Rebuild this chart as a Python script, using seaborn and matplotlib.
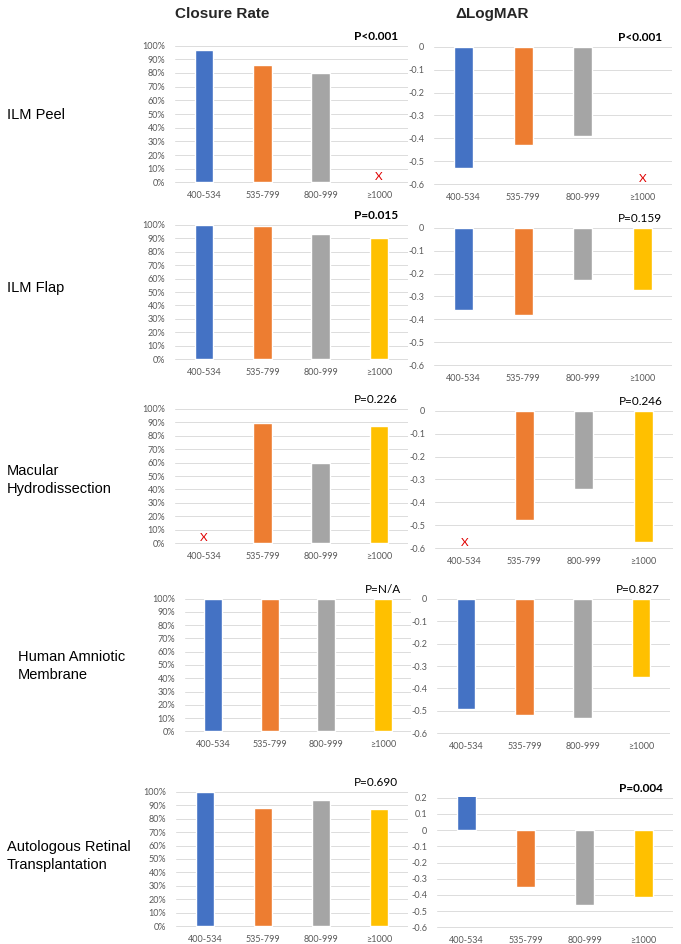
import numpy as np
import pandas as pd
import matplotlib
matplotlib.use("Agg")
import matplotlib.pyplot as plt
import seaborn as sns
from matplotlib.ticker import FuncFormatter, FixedLocator

# ---------------- data ----------------
categories = ["400-534", "535-799", "800-999", "≥1000"]
colors = ["#4472C4", "#ED7D31", "#A5A5A5", "#FFC000"]
techniques = ["ILM Peel", "ILM Flap", "Macular\nHydrodissection",
              "Human Amniotic\nMembrane", "Autologous Retinal\nTransplantation"]

closure_ilm_peel = [0.97, 0.86, 0.80, np.nan]
closure_ilm_flap = [1.00, 0.99, 0.93, 0.90]
closure_macular = [np.nan, 0.89, 0.60, 0.87]
closure_amniotic = [1.00, 1.00, 1.00, 1.00]
closure_retinal = [1.00, 0.88, 0.94, 0.87]

logmar_ilm_peel = [-0.53, -0.43, -0.39, np.nan]
logmar_ilm_flap = [-0.36, -0.38, -0.23, -0.27]
logmar_macular = [np.nan, -0.475, -0.34, -0.57]
logmar_amniotic = [-0.49, -0.52, -0.53, -0.35]
logmar_retinal = [0.22, -0.35, -0.46, -0.41]

p_closure = ["P<0.001", "P=0.015", "P=0.226", "P=N/A", "P=0.690"]
p_closure_bold = [True, True, False, False, False]
p_logmar = ["P<0.001", "P=0.159", "P=0.246", "P=0.827", "P=0.004"]
p_logmar_bold = [True, False, False, False, True]

logmar_top = [0.0, 0.0, 0.0, 0.0, 0.2]
logmar_bottom = -0.6

closure_rows = [closure_ilm_peel, closure_ilm_flap, closure_macular,
                closure_amniotic, closure_retinal]
logmar_rows = [logmar_ilm_peel, logmar_ilm_flap, logmar_macular,
               logmar_amniotic, logmar_retinal]

# ---------------- layout (pixels: left, top, right, bottom) ----------------
W, H = 681, 944
left_boxes = [(175, 45, 408, 183), (175, 224, 408, 360), (175, 408, 408, 544),
              (185, 598, 411, 732), (176, 791, 408, 927)]
right_boxes = [(434, 46, 672, 185), (434, 227, 672, 366), (435, 410, 673, 549),
               (437, 598, 670, 734), (437, 797, 673, 928)]
label_pos = [(7, 115), (7, 288), (7, 480), (18, 666), (7, 856)]

sns.set_theme(style="white")
plt.rcParams["font.family"] = ["Lato", "DejaVu Sans"]

fig = plt.figure(figsize=(W / 100, H / 100), dpi=100)
fig.patch.set_facecolor("white")


def add_ax(box):
    l, t, r, b = box
    return fig.add_axes([l / W, 1 - b / H, (r - l) / W, (b - t) / H])


def style_ax(ax):
    for s in ax.spines.values():
        s.set_visible(False)
    ax.yaxis.grid(True, color="#DCDCDC", lw=0.7)
    ax.xaxis.grid(False)
    ax.set_axisbelow(True)
    ax.tick_params(axis="both", length=0, labelsize=6.5, colors="#595959")
    ax.tick_params(axis="y", pad=7)
    ax.tick_params(axis="x", pad=6)
    ax.set_xlabel("")
    ax.set_ylabel("")
    ax.set_xlim(-0.5, len(categories) - 0.5)


def draw(ax, vals, ymin, ymax, step, fmt):
    df = pd.DataFrame({"cat": categories, "val": vals})
    sns.barplot(data=df, x="cat", y="val", hue="cat", order=categories,
                hue_order=categories, palette=colors, width=0.32,
                legend=False, ax=ax, saturation=1, errorbar=None)
    n = int(round((ymax - ymin) / step))
    ticks = [round(ymin + i * step, 2) for i in range(n + 1)]
    ax.yaxis.set_major_locator(FixedLocator(ticks))
    ax.yaxis.set_major_formatter(FuncFormatter(fmt))
    pad = (ymax - ymin) * 0.004
    ax.set_ylim(ymin - pad, ymax + pad)
    style_ax(ax)
    for i, v in enumerate(vals):
        if np.isnan(v):
            ax.text(i, ymin + (ymax - ymin) * 0.003, "X", color="#E00000",
                    ha="center", va="bottom", fontsize=8.5)


def pct(v, _):
    return f"{int(round(v * 100))}%"


def dec(v, _):
    v = round(v, 2)
    return "0" if abs(v) < 1e-9 else f"{v:.1f}"


for r in range(5):
    axl = add_ax(left_boxes[r])
    draw(axl, closure_rows[r], 0.0, 1.0, 0.1, pct)
    axr = add_ax(right_boxes[r])
    draw(axr, logmar_rows[r], logmar_bottom, logmar_top[r], 0.1, dec)

    l, t, rr, b = left_boxes[r]
    fig.text((rr - 10) / W, 1 - (t - 8.5) / H, p_closure[r], ha="right",
             va="center", fontsize=8.5,
             fontweight="bold" if p_closure_bold[r] else "normal",
             color="black")
    l, t, rr, b = right_boxes[r]
    fig.text((rr - 10) / W, 1 - (t - 8.5) / H, p_logmar[r], ha="right",
             va="center", fontsize=8.5,
             fontweight="bold" if p_logmar_bold[r] else "normal",
             color="black")

    x, y = label_pos[r]
    fig.text(x / W, 1 - y / H, techniques[r], ha="left", va="center",
             fontsize=10.5, family=["Liberation Sans", "DejaVu Sans"],
             linespacing=1.35, color="black")

fig.text(222 / W, 1 - 14 / H, "Closure Rate", ha="center", va="center",
         fontsize=11, fontweight="bold",
         family=["Liberation Sans", "DejaVu Sans"])
fig.text(492 / W, 1 - 14 / H, "ΔLogMAR", ha="center", va="center",
         fontsize=11, fontweight="bold",
         family=["Liberation Sans", "DejaVu Sans"])

fig.savefig("out.png", dpi=100, facecolor="white")
